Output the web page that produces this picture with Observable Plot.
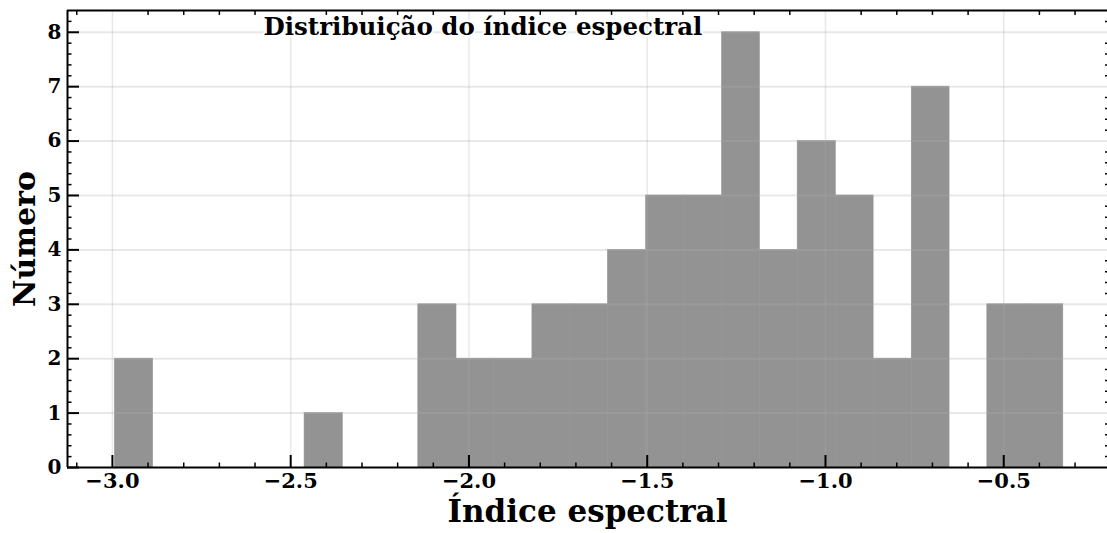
<!DOCTYPE html>
<html>
<head>
<meta charset="utf-8">
<script src="https://cdn.jsdelivr.net/npm/d3@7"></script>
<script src="https://cdn.jsdelivr.net/npm/@observablehq/plot@0.6"></script>
<style>
  html, body { margin: 0; padding: 0; background: #fff; }
  #chart svg { display: block; }
</style>
</head>
<body>
<div id="chart"></div>
<script>
// Histogram bin edges (spectral index) and counts
const binEdges = [-2.993, -2.886, -2.780, -2.674, -2.567, -2.461, -2.354, -2.248, -2.142, -2.035,
                  -1.929, -1.822, -1.716, -1.610, -1.503, -1.397, -1.290, -1.184, -1.078, -0.971,
                  -0.865, -0.758, -0.652, -0.546, -0.439, -0.333];
const counts = [2, 0, 0, 0, 0, 1, 0, 0, 3, 2, 2, 3, 3, 4, 5, 5, 8, 4, 6, 5, 2, 7, 0, 3, 3];

const xMajorTicks = [-3.0, -2.5, -2.0, -1.5, -1.0, -0.5];
const xMinorTicks = [-3.1, -2.9, -2.8, -2.7, -2.6, -2.4, -2.3, -2.2, -2.1, -1.9, -1.8, -1.7, -1.6,
                     -1.4, -1.3, -1.2, -1.1, -0.9, -0.8, -0.7, -0.6, -0.4, -0.3];
const yMajorTicks = [0, 1, 2, 3, 4, 5, 6, 7, 8];
const yMinorTicks = [0.2, 0.4, 0.6, 0.8, 1.2, 1.4, 1.6, 1.8, 2.2, 2.4, 2.6, 2.8, 3.2, 3.4, 3.6, 3.8,
                     4.2, 4.4, 4.6, 4.8, 5.2, 5.4, 5.6, 5.8, 6.2, 6.4, 6.6, 6.8, 7.2, 7.4, 7.6, 7.8, 8.2];

const titleText = "Distribuição do índice espectral";
const xLabel = "Índice espectral";
const yLabel = "Número";
const xDomain = [-3.126, -0.209];
const yDomain = [0, 8.4];

const bins = counts.map((c, i) => ({x1: binEdges[i], x2: binEdges[i + 1], count: c})).filter(d => d.count > 0);

const W = 1107, H = 533;
const mL = 67, mR = 0, mT = 10, mB = 66;
const fw = W - mL - mR, fh = H - mT - mB;
const font = "DejaVu Serif";
const fmt = d3.format(".1f");

const chart = Plot.plot({
  width: W,
  height: H,
  marginLeft: mL,
  marginRight: mR,
  marginTop: mT,
  marginBottom: mB,
  style: {fontFamily: font, background: "#fff", overflow: "visible"},
  x: {domain: xDomain, axis: null},
  y: {domain: yDomain, axis: null},
  marks: [
    Plot.rectY(bins, {x1: "x1", x2: "x2", y: "count", fill: "#939393", stroke: "#939393", strokeWidth: 0.6}),
    // grid
    Plot.ruleX(xMajorTicks, {stroke: "#acacac", strokeOpacity: 0.28, strokeWidth: 1.5}),
    Plot.ruleY(yMajorTicks.filter(d => d > 0), {stroke: "#acacac", strokeOpacity: 0.28, strokeWidth: 2}),
    // title inside the axes
    Plot.text([titleText], {text: d => d, frameAnchor: "top-left", textAnchor: "start", lineAnchor: "middle",
      dx: 196, dy: 17, fontSize: 24.5, fontWeight: "bold", fontFamily: font, fill: "#000",
      stroke: "#fff", strokeWidth: 4}),
    // spines
    Plot.ruleY([yDomain[0]], {stroke: "#000", strokeWidth: 2}),
    Plot.ruleY([yDomain[1]], {stroke: "#000", strokeWidth: 2}),
    Plot.ruleX([xDomain[0]], {stroke: "#000", strokeWidth: 2}),
    // bottom ticks (inward)
    Plot.ruleX(xMajorTicks, {stroke: "#000", strokeWidth: 2, insetTop: fh - 12}),
    Plot.ruleX(xMinorTicks, {stroke: "#000", strokeWidth: 1.5, insetTop: fh - 4.5}),
    // top ticks (inward, minor)
    Plot.ruleX(xMinorTicks, {stroke: "#000", strokeWidth: 1.5, insetBottom: fh - 5}),
    // left ticks
    Plot.ruleY(yMajorTicks, {stroke: "#000", strokeWidth: 2, insetRight: fw - 12}),
    Plot.ruleY(yMinorTicks, {stroke: "#000", strokeWidth: 1.5, insetRight: fw - 4.5}),
    // right ticks (only visible stubs at the edge)
    Plot.ruleY(yMinorTicks, {stroke: "#000", strokeWidth: 1.5, insetLeft: fw - 2}),
    // tick labels
    Plot.text(xMajorTicks, {x: d => d, text: d => fmt(d), frameAnchor: "bottom", lineAnchor: "top",
      dy: 6, fontSize: 21, fontWeight: "bold", fontFamily: font, fill: "#000"}),
    Plot.text(yMajorTicks, {y: d => d, text: d => String(d), frameAnchor: "left", textAnchor: "end",
      dx: -6, fontSize: 20, fontWeight: "bold", fontFamily: font, fill: "#000"}),
    // axis labels
    Plot.text([xLabel], {text: d => d, frameAnchor: "bottom", lineAnchor: "middle", dy: 45,
      fontSize: 31, fontWeight: "bold", fontFamily: font, fill: "#000"}),
    Plot.text([yLabel], {text: d => d, frameAnchor: "left", textAnchor: "middle", lineAnchor: "middle",
      rotate: -90, dx: -42, fontSize: 30, fontWeight: "bold", fontFamily: font, fill: "#000"})
  ]
});
document.getElementById("chart").appendChild(chart);
</script>
</body>
</html>
